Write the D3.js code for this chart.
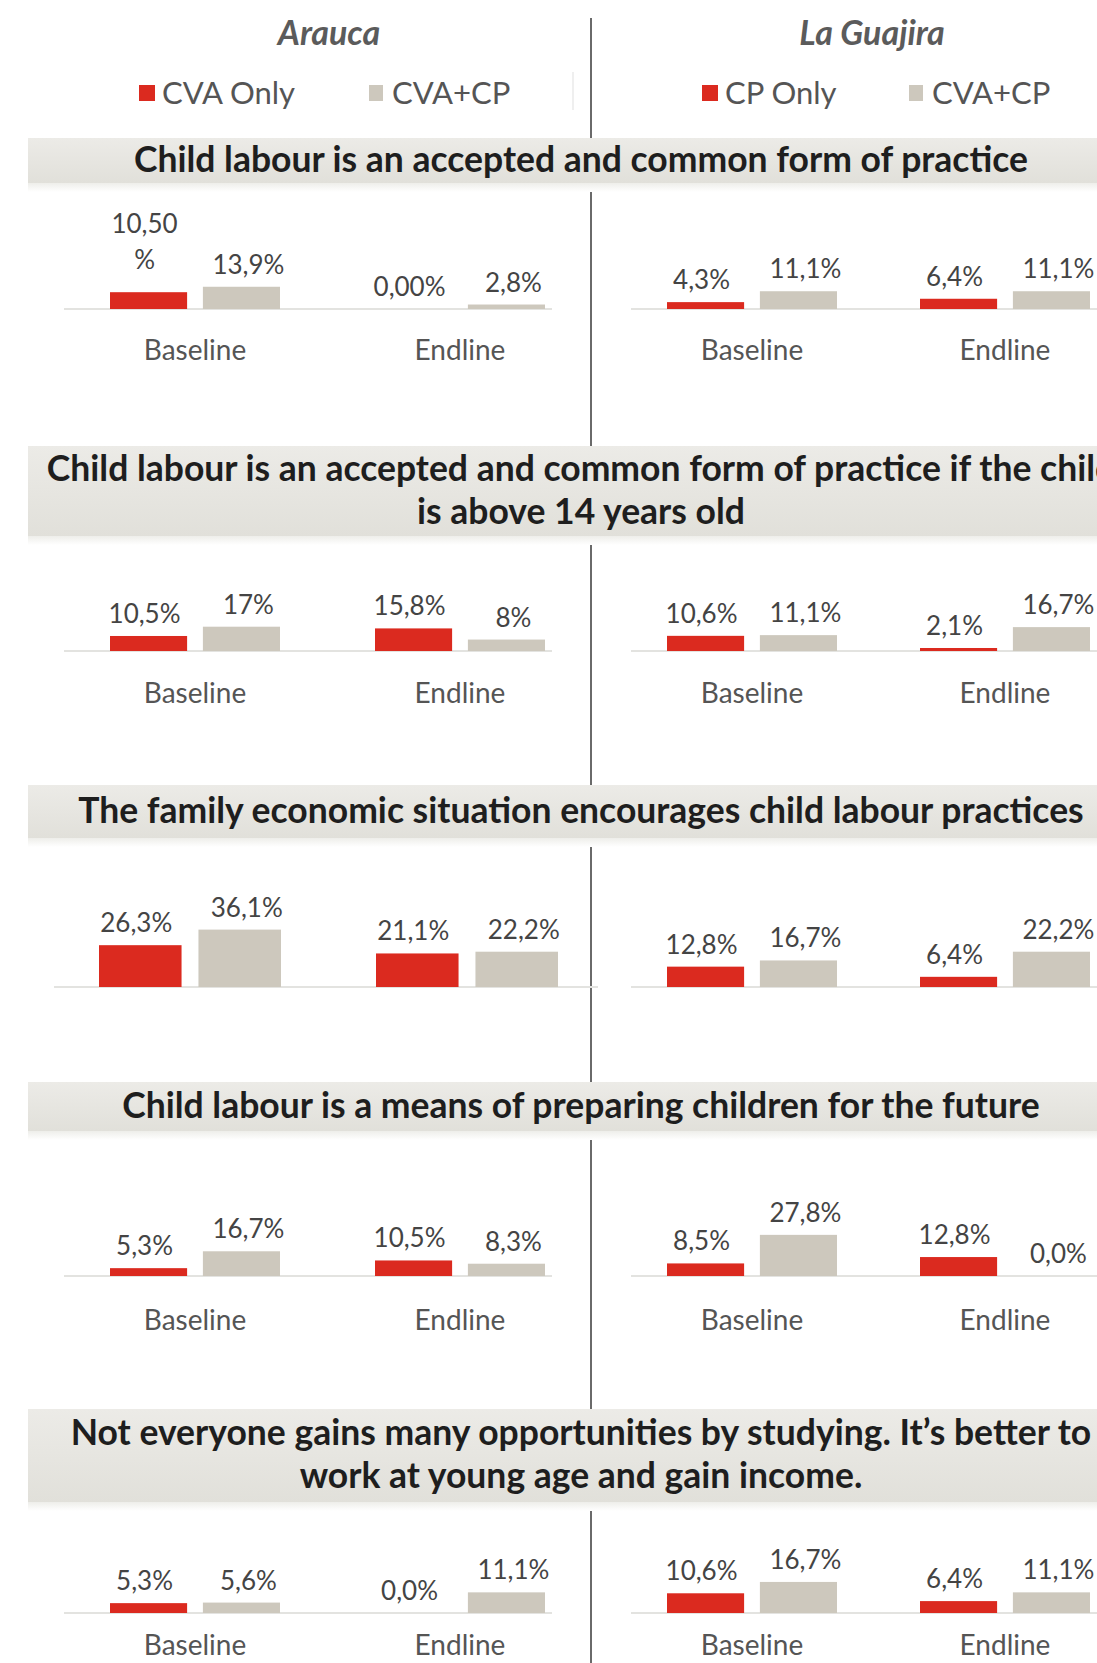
<!DOCTYPE html>
<html>
<head>
<meta charset="utf-8">
<script src="https://cdn.jsdelivr.net/npm/d3@7"></script>
<style>
  body { margin: 0; background: #fff; }
  svg { display: block; font-family: Lato, "Open Sans", sans-serif; }
</style>
</head>
<body>
<div id="chart"></div>
<script>
var svgWidth = 1097;
var svgHeight = 1663;

// ---- data ----
var regions = ["Arauca", "La Guajira"];
var araucaSeries = ["CVA Only", "CVA+CP"];
var guajiraSeries = ["CP Only", "CVA+CP"];
var periods = ["Baseline", "Endline"];

var questions = [
  ["Child labour is an accepted and common form of practice"],
  ["Child labour is an accepted and common form of practice if the child", "is above 14 years old"],
  ["The family economic situation encourages child labour practices"],
  ["Child labour is a means of preparing children for the future"],
  ["Not everyone gains many opportunities by studying. It\u2019s better to", "work at young age and gain income."]
];

// order inside each row: Baseline first series, Baseline CVA+CP, Endline first series, Endline CVA+CP
var araucaValues = [
  [10.5, 13.9, 0, 2.8],
  [10.5, 17, 15.8, 8],
  [26.3, 36.1, 21.1, 22.2],
  [5.3, 16.7, 10.5, 8.3],
  [5.3, 5.6, 0, 11.1]
];
var araucaLabels = [
  ["10,50 %", "13,9%", "0,00%", "2,8%"],
  ["10,5%", "17%", "15,8%", "8%"],
  ["26,3%", "36,1%", "21,1%", "22,2%"],
  ["5,3%", "16,7%", "10,5%", "8,3%"],
  ["5,3%", "5,6%", "0,0%", "11,1%"]
];
var guajiraValues = [
  [4.3, 11.1, 6.4, 11.1],
  [10.6, 11.1, 2.1, 16.7],
  [12.8, 16.7, 6.4, 22.2],
  [8.5, 27.8, 12.8, 0],
  [10.6, 16.7, 6.4, 11.1]
];
var guajiraLabels = [
  ["4,3%", "11,1%", "6,4%", "11,1%"],
  ["10,6%", "11,1%", "2,1%", "16,7%"],
  ["12,8%", "16,7%", "6,4%", "22,2%"],
  ["8,5%", "27,8%", "12,8%", "0,0%"],
  ["10,6%", "16,7%", "6,4%", "11,1%"]
];
// the third question has no Baseline / Endline captions in the source
var showCategoryLabels = [true, true, false, true, true];

// ---- layout ----
var colors = ["#db2a1f", "#cdc8bd"];
var labelShift = [-4, 7];
var divider = 591;

var regionLayout = [
  { title: 329, centers: [195, 460], axis: [64, 552], series: araucaSeries,
    values: araucaValues, labels: araucaLabels, legend: [139, 369] },
  { title: 872, centers: [752, 1005], axis: [631, 1097], series: guajiraSeries,
    values: guajiraValues, labels: guajiraLabels, legend: [702, 909] }
];

var panelLayout = [
  { band: [138, 183], base: 309, pxPerPct: 1.6, catY: 350 },
  { band: [446, 536], base: 651, pxPerPct: 1.43, catY: 693 },
  { band: [785, 838], base: 987, pxPerPct: 1.59, catY: 0,
    araucaCenters: [190, 467], araucaAxis: [54, 598], araucaGroup: 182 },
  { band: [1082, 1131], base: 1276, pxPerPct: 1.48, catY: 1320 },
  { band: [1409, 1502], base: 1613, pxPerPct: 1.86, catY: 1645 }
];

var svg = d3.select("#chart")
  .append("svg")
  .attr("width", svgWidth)
  .attr("height", svgHeight);

var defs = svg.append("defs");
var bandGrad = defs.append("linearGradient")
  .attr("id", "bandGrad")
  .attr("x1", 0).attr("y1", 0).attr("x2", 0).attr("y2", 1);
bandGrad.append("stop").attr("offset", "0%").attr("stop-color", "#ecebe7");
bandGrad.append("stop").attr("offset", "100%").attr("stop-color", "#e1e0da");
var shadowGrad = defs.append("linearGradient")
  .attr("id", "shadowGrad")
  .attr("x1", 0).attr("y1", 0).attr("x2", 0).attr("y2", 1);
shadowGrad.append("stop").attr("offset", "0%").attr("stop-color", "#eeeeea");
shadowGrad.append("stop").attr("offset", "100%").attr("stop-color", "#ffffff");

// vertical divider between the two regions
svg.append("line")
  .attr("x1", divider).attr("x2", divider)
  .attr("y1", 18).attr("y2", svgHeight)
  .attr("stroke", "#6a6a6a")
  .attr("stroke-width", 2);

// faint separator between the legends
svg.append("line")
  .attr("x1", 573).attr("x2", 573)
  .attr("y1", 72).attr("y2", 110)
  .attr("stroke", "#efefef")
  .attr("stroke-width", 2);

// region titles and legends
regionLayout.forEach(function(r, ri) {
  svg.append("text")
    .attr("x", r.title)
    .attr("y", 33)
    .attr("dy", "0.35em")
    .attr("text-anchor", "middle")
    .attr("font-size", "34px")
    .attr("font-weight", "bold")
    .attr("font-style", "italic")
    .attr("fill", "#5b5b5b")
    .text(regions[ri]);

  var legend = svg.append("g");
  r.series.forEach(function(name, si) {
    legend.append("rect")
      .attr("x", r.legend[si])
      .attr("y", 85)
      .attr("width", si === 0 ? 16 : 14)
      .attr("height", 16)
      .attr("fill", colors[si]);
    legend.append("text")
      .attr("x", r.legend[si] + 23)
      .attr("y", 93)
      .attr("dy", "0.35em")
      .attr("font-size", "31px")
      .attr("fill", "#555")
      .text(name);
  });
});

// question panels
panelLayout.forEach(function(p, qi) {

  // title band
  svg.append("rect")
    .attr("x", 28)
    .attr("y", p.band[0])
    .attr("width", svgWidth - 28)
    .attr("height", p.band[1] - p.band[0])
    .attr("fill", "url(#bandGrad)");
  svg.append("rect")
    .attr("x", 28)
    .attr("y", p.band[1])
    .attr("width", svgWidth - 28)
    .attr("height", 9)
    .attr("fill", "url(#shadowGrad)");

  var lines = questions[qi];
  var mid = (p.band[0] + p.band[1]) / 2;
  lines.forEach(function(line, li) {
    svg.append("text")
      .attr("x", 581)
      .attr("y", mid - 1 + (li - (lines.length - 1) / 2) * 43)
      .attr("dy", "0.35em")
      .attr("text-anchor", "middle")
      .attr("font-size", "35.5px")
      .attr("font-weight", "bold")
      .attr("fill", "#1e1e1e")
      .text(line);
  });

  var yScale = d3.scaleLinear()
    .domain([0, 100])
    .range([p.base, p.base - 100 * p.pxPerPct]);

  regionLayout.forEach(function(r, ri) {
    var isArauca = ri === 0;
    var centers = (isArauca && p.araucaCenters) ? p.araucaCenters : r.centers;
    var axis = (isArauca && p.araucaAxis) ? p.araucaAxis : r.axis;
    var group = (isArauca && p.araucaGroup) ? p.araucaGroup : 170;

    var xOuter = d3.scalePoint()
      .domain(periods)
      .range(centers);
    var xInner = d3.scaleBand()
      .domain([0, 1])
      .range([-group / 2, group / 2])
      .paddingInner(0.17);

    var g = svg.append("g");

    // baseline
    g.append("line")
      .attr("x1", axis[0]).attr("x2", axis[1])
      .attr("y1", yScale(0)).attr("y2", yScale(0))
      .attr("stroke", "#e3e3e0")
      .attr("stroke-width", 2);

    var rows = r.values[qi].map(function(v, i) {
      return {
        period: periods[Math.floor(i / 2)],
        series: i % 2,
        value: v,
        label: r.labels[qi][i]
      };
    });

    g.selectAll("rect.bar")
      .data(rows)
      .enter()
      .append("rect")
      .attr("class", "bar")
      .attr("x", d => xOuter(d.period) + xInner(d.series))
      .attr("width", xInner.bandwidth())
      .attr("y", d => yScale(d.value))
      .attr("height", d => yScale(0) - yScale(d.value))
      .attr("fill", d => colors[d.series]);

    var labels = g.selectAll("text.value")
      .data(rows)
      .enter()
      .append("text")
      .attr("class", "value")
      .attr("text-anchor", "middle")
      .attr("font-size", "26px")
      .attr("fill", "#444");

    labels.each(function(d) {
      var parts = d.label.split(" ");
      var cx = xOuter(d.period) + xInner(d.series) + xInner.bandwidth() / 2 + labelShift[d.series];
      var by = yScale(d.value) - 13 - (parts.length > 1 ? 10 : 0);
      var t = d3.select(this);
      parts.forEach(function(part, pi) {
        t.append("tspan")
          .attr("x", cx)
          .attr("y", by - (parts.length - 1 - pi) * 36)
          .text(part);
      });
    });

    if (showCategoryLabels[qi]) {
      g.selectAll("text.cat")
        .data(periods)
        .enter()
        .append("text")
        .attr("class", "cat")
        .attr("x", d => xOuter(d))
        .attr("y", p.catY)
        .attr("dy", "0.35em")
        .attr("text-anchor", "middle")
        .attr("font-size", "28px")
        .attr("fill", "#555")
        .text(d => d);
    }
  });
});
</script>
</body>
</html>
